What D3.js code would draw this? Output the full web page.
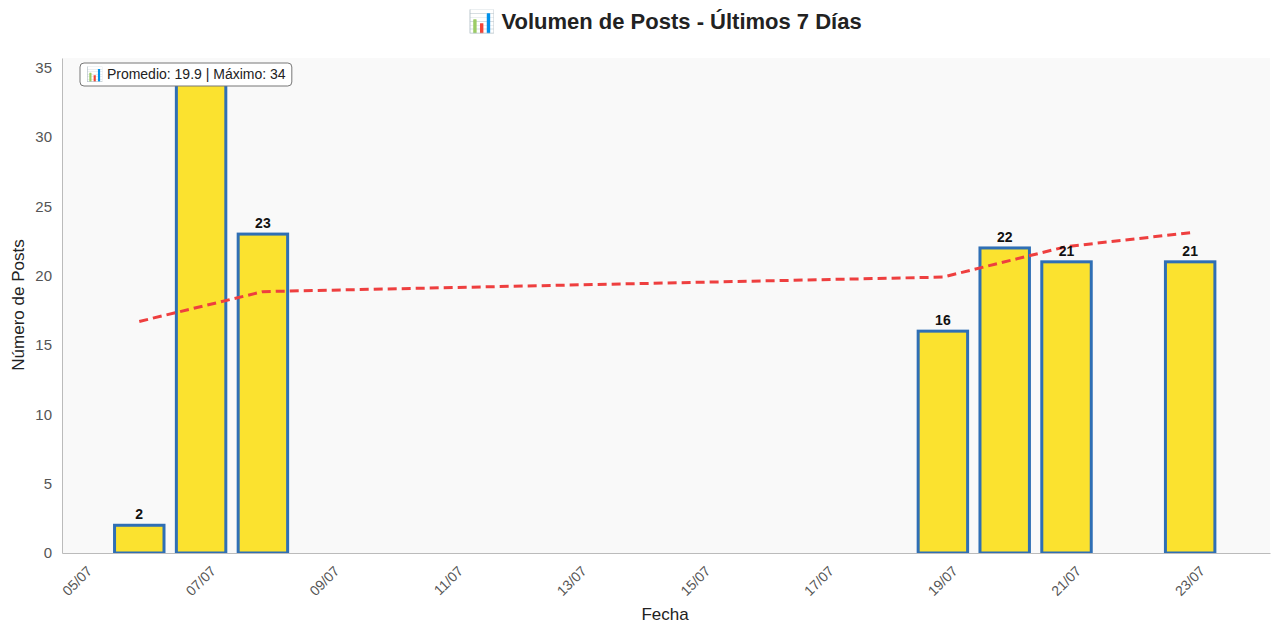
<!DOCTYPE html>
<html><head><meta charset="utf-8">
<script src="https://cdn.jsdelivr.net/npm/d3@7"></script>
<style>body{margin:0;background:#fff;font-family:"Liberation Sans",Arial,sans-serif}</style>
</head><body><svg id="c" width="1280" height="633" font-family="Liberation Sans, Arial, sans-serif"></svg>
<script>
const dates=["2024-07-06","2024-07-07","2024-07-08","2024-07-19","2024-07-20","2024-07-21","2024-07-23"];
const posts=[2,34,23,16,22,21,21];
const trendDates=["2024-07-06","2024-07-08","2024-07-19","2024-07-21","2024-07-23"];
const trendValues=[16.7,18.85,19.9,22.1,23.1];
const tickDates=["2024-07-05","2024-07-07","2024-07-09","2024-07-11","2024-07-13","2024-07-15","2024-07-17","2024-07-19","2024-07-21","2024-07-23"];
const yTicks=[0,5,10,15,20,25,30,35];
const title="📊 Volumen de Posts - Últimos 7 Días";
const note="📊 Promedio: 19.9 | Máximo: 34";

const p=d3.timeParse("%Y-%m-%d"), fmt=d3.timeFormat("%d/%m");
const svg=d3.select("#c");
const L=62,R=1270,T=58,B=553;
const x=d3.scaleTime().domain([new Date(2024,6,4,18),new Date(2024,6,24,7)]).range([L,R]);
const y=d3.scaleLinear().domain([0,35.7]).range([B,T]);
const day=x(p("2024-07-07"))-x(p("2024-07-06"));
svg.append("rect").attr("x",L).attr("y",T).attr("width",R-L).attr("height",B-T).attr("fill","#f9f9f9");
svg.append("defs").append("clipPath").attr("id","cp").append("rect").attr("x",L).attr("y",T).attr("width",R-L).attr("height",B-T);
const g=svg.append("g").attr("clip-path","url(#cp)");
const bw=day*0.8;
g.selectAll(".bar").data(dates).join("rect").attr("x",d=>x(p(d))-bw/2).attr("width",bw)
 .attr("y",(d,i)=>y(posts[i])).attr("height",(d,i)=>B-y(posts[i]))
 .attr("fill","#fbe22f").attr("stroke","#2f6fb5").attr("stroke-width",3);
svg.selectAll(".lbl").data(dates).join("text").attr("x",d=>x(p(d))).attr("y",(d,i)=>y(posts[i])-6)
 .attr("text-anchor","middle").attr("font-size",14).attr("font-weight","bold").attr("fill","#111").text((d,i)=>posts[i]);
g.append("path").datum(trendDates.map((d,i)=>[x(p(d)),y(trendValues[i])]))
 .attr("d",d3.line()).attr("fill","none").attr("stroke","#ee3f3f").attr("stroke-width",3).attr("stroke-dasharray","9,5");
const xa=svg.append("g").attr("transform",`translate(0,${B})`).call(d3.axisBottom(x).tickValues(tickDates.map(p)).tickFormat(fmt).tickSize(0));
xa.select(".domain").attr("stroke","#bbb");
xa.selectAll("text").attr("font-size",14).attr("fill","#555").attr("text-anchor","end").attr("font-family","Liberation Sans, Arial, sans-serif")
 .attr("transform","translate(6,10) rotate(-45)").attr("dy","0.7em");
const ya=svg.append("g").attr("transform",`translate(${L},0)`).call(d3.axisLeft(y).tickValues(yTicks).tickSize(0).tickPadding(10));
ya.select(".domain").attr("stroke","#bbb");
ya.selectAll("text").attr("font-size",15).attr("fill","#555").attr("font-family","Liberation Sans, Arial, sans-serif");
svg.append("text").attr("x",665).attr("y",620).attr("text-anchor","middle").attr("font-size",17).attr("fill","#222").text("Fecha");
svg.append("text").attr("transform","translate(24,305) rotate(-90)").attr("text-anchor","middle").attr("font-size",17).attr("fill","#222").text("Número de Posts");
svg.append("text").attr("x",665).attr("y",29).attr("text-anchor","middle").attr("font-size",22).attr("font-weight","bold").attr("fill","#222").text(title);
const box=svg.append("rect");
const nt=svg.append("text").attr("x",86).attr("y",79).attr("font-size",14).attr("fill","#222").text(note);
const bb=nt.node().getBBox();
box.attr("x",bb.x-6).attr("y",bb.y-3).attr("width",bb.width+12).attr("height",bb.height+6)
 .attr("rx",4).attr("fill","#fff").attr("stroke","#777");
</script></body></html>
